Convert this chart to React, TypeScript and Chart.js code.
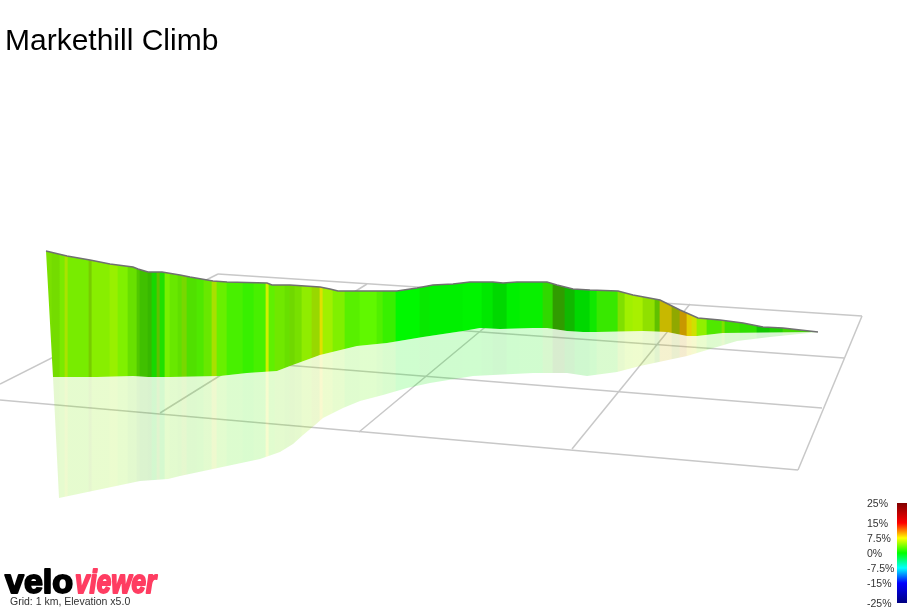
import { useEffect, useRef } from 'react';
import { Chart, registerables } from 'chart.js';

Chart.register(...registerables);

const WIDTH = 907;
const HEIGHT = 607;

const chartTitle = 'Markethill Climb';
const gridCaption = 'Grid: 1 km, Elevation x5.0';

// top of the elevation ribbon
const ridgeX = [46, 67, 90, 110, 133, 138, 148, 162, 180, 190, 213, 227, 267, 272, 290, 320, 330, 338, 397, 417, 433, 453, 470, 493, 503, 517, 547, 557, 573, 590, 618, 633, 660, 680, 698, 720, 743, 763, 783, 818];
const ridgeY = [251, 256, 260, 264, 267, 269, 272, 272, 275, 277, 281, 282, 283, 285, 285, 287, 289, 291, 291, 288, 285, 284, 282, 282, 283, 282, 282, 285, 289, 290, 291, 295, 300, 310, 318, 320, 323, 327, 328, 332];

// where the ribbon meets the ground
const groundX = [53, 97, 133, 148, 170, 220, 247, 277, 290, 320, 357, 387, 423, 463, 480, 500, 533, 547, 567, 583, 597, 643, 667, 687, 697, 723, 818];
const groundY = [377, 377, 376, 377, 377, 376, 373, 371, 366, 355, 346, 343, 337, 331, 328, 329, 328, 328, 331, 332, 332, 331, 332, 336, 336, 333, 332];

// lower edge of the reflection
const mirrorX = [59, 140, 168, 180, 260, 280, 293, 303, 315, 323, 343, 360, 383, 407, 430, 473, 533, 567, 587, 617, 640, 687, 707, 737, 770, 818];
const mirrorY = [498, 481, 479, 476, 459, 452, 444, 435, 425, 418, 408, 401, 395, 388, 383, 376, 373, 373, 376, 372, 366, 356, 350, 341, 337, 332];

// gradient stripes along the route
const stripeStart = [46, 52, 60, 65, 68, 89, 92, 110, 118, 128, 137, 140, 148, 152, 157, 160, 165, 170, 178, 182, 187, 197, 204, 212, 217, 227, 243, 254, 266, 269, 275, 285, 290, 295, 302, 312, 320, 323, 333, 345, 360, 377, 383, 396, 420, 430, 463, 482, 493, 507, 520, 543, 553, 565, 575, 590, 597, 618, 625, 633, 643, 655, 660, 672, 680, 687, 692, 697, 707, 722, 725, 740, 757, 770, 783];
const stripeColor = ['#7ae000', '#74dc00', '#7aea00', '#a8e400', '#78ec00', '#78cc00', '#88ee00', '#98f000', '#80f000', '#68e000', '#50c800', '#40c000', '#38b800', '#18d800', '#60c000', '#20e000', '#78f000', '#68e800', '#60e000', '#78d800', '#50e000', '#50e800', '#68e800', '#a8e000', '#68f000', '#48f000', '#38f000', '#48f000', '#d0f000', '#60f000', '#70e800', '#68e000', '#70d800', '#78e000', '#90ec00', '#98d800', '#e0e000', '#a0f000', '#80f000', '#58f000', '#60f800', '#50f000', '#38f000', '#00f800', '#08e800', '#00f000', '#00f400', '#00e800', '#00d800', '#00f000', '#08f000', '#30d800', '#309c00', '#10b800', '#00d800', '#10e800', '#38e800', '#80e000', '#a0f000', '#a8f000', '#90e000', '#60c000', '#c8b800', '#90a800', '#c89800', '#e0d000', '#d0e000', '#90f000', '#50e800', '#80e000', '#40e000', '#30e000', '#10c800', '#20d000', '#40d800'];

// ground grid, 1 km squares
const gridFromX = [0, 218, 272, 300, 0, 160, 359, 572, 798];
const gridFromY = [400, 274, 364, 319, 384, 413, 432, 449, 470];
const gridToX = [798, 862, 822, 844, 218, 367, 525, 690, 862];
const gridToY = [470, 316, 408, 358, 274, 284, 294, 304, 316];

// gradient scale
const scaleValues = [25, 15, 7.5, 0, -7.5, -15, -25];
const scaleLabels = ['25%', '15%', '7.5%', '0%', '-7.5%', '-15%', '-25%'];
const scaleColors = ['#800000', '#ff0000', '#ffff00', '#00ff00', '#00ffff', '#0000ff', '#000080'];

const toPoints = (xs: number[], ys: number[]) => xs.map((x, i) => ({ x, y: ys[i] }));

const scaleY = (pct: number) => 553 - pct * 2;

const stripes = (alpha: string) => (ctx: any) => {
  const { chart } = ctx;
  // the options get resolved once before the layout is done
  if (!chart.chartArea) return 'transparent';
  const xScale = chart.scales.x;
  const grad = chart.ctx.createLinearGradient(xScale.getPixelForValue(0), 0, xScale.getPixelForValue(WIDTH), 0);
  stripeStart.forEach((start, i) => {
    const end = i + 1 < stripeStart.length ? stripeStart[i + 1] : WIDTH;
    // a little soft between two stripes
    grad.addColorStop(start / WIDTH, stripeColor[i] + alpha);
    grad.addColorStop((end - 0.8) / WIDTH, stripeColor[i] + alpha);
  });
  return grad;
};

const scaleBar = (ctx: any) => {
  const { chart } = ctx;
  if (!chart.chartArea) return 'transparent';
  const yScale = chart.scales.y;
  const top = yScale.getPixelForValue(scaleY(25));
  const bottom = yScale.getPixelForValue(scaleY(-25));
  const grad = chart.ctx.createLinearGradient(0, top, 0, bottom);
  scaleValues.forEach((v, i) => {
    grad.addColorStop((25 - v) / 50, scaleColors[i]);
  });
  return grad;
};

// title, caption, logo and the labels of the gradient scale
const textPlugin = {
  id: 'pageText',
  afterDraw(chart: Chart) {
    const { ctx } = chart;
    const x = chart.scales.x;
    const y = chart.scales.y;
    ctx.save();
    ctx.textBaseline = 'alphabetic';
    ctx.textAlign = 'left';

    ctx.fillStyle = '#000000';
    ctx.font = '30px "Liberation Sans", Arial, sans-serif';
    ctx.fillText(chartTitle, x.getPixelForValue(5), y.getPixelForValue(50));

    ctx.fillStyle = '#333333';
    ctx.font = '10.5px "Liberation Sans", Arial, sans-serif';
    scaleLabels.forEach((label, i) => {
      ctx.fillText(label, x.getPixelForValue(867), y.getPixelForValue(scaleY(scaleValues[i]) + 4));
    });
    ctx.fillText(gridCaption, x.getPixelForValue(10), y.getPixelForValue(605));

    ctx.lineJoin = 'round';
    ctx.lineWidth = 2;
    ctx.font = 'bold 34px "Liberation Sans", Arial, sans-serif';
    ctx.fillStyle = '#000000';
    ctx.strokeStyle = '#000000';
    ctx.fillText('velo', x.getPixelForValue(5), y.getPixelForValue(593), 70);
    ctx.strokeText('velo', x.getPixelForValue(5), y.getPixelForValue(593), 70);
    ctx.font = 'italic bold 33px "Liberation Sans", Arial, sans-serif';
    ctx.fillStyle = '#ff3d62';
    ctx.strokeStyle = '#ff3d62';
    ctx.fillText('viewer', x.getPixelForValue(75), y.getPixelForValue(593), 81);
    ctx.strokeText('viewer', x.getPixelForValue(75), y.getPixelForValue(593), 81);
    ctx.restore();
  },
};

export default function App() {
  const chartRef = useRef<HTMLCanvasElement>(null);

  useEffect(() => {
    if (!chartRef.current) return;

    const ground = toPoints(groundX, groundY);
    const hidden = { borderWidth: 0, pointRadius: 0, showLine: true, fill: false };

    const chart = new Chart(chartRef.current, {
      type: 'scatter',
      data: {
        datasets: [
          // scale bar on top of everything else
          {
            data: toPoints([897, 907], [scaleY(25), scaleY(25)]),
            showLine: true,
            borderWidth: 0,
            pointRadius: 0,
            fill: { value: scaleY(-25) },
            backgroundColor: scaleBar,
          },
          // ribbon, the lower edge starts in the top corner to get the slanted left side
          {
            data: toPoints(ridgeX, ridgeY),
            showLine: true,
            borderColor: '#707070',
            borderWidth: 1.5,
            pointRadius: 0,
            fill: '+1',
            backgroundColor: stripes('ff'),
          },
          { data: [{ x: ridgeX[0], y: ridgeY[0] }, ...ground], ...hidden },
          // reflection on the ground
          {
            data: [ground[0], ...toPoints(mirrorX, mirrorY)],
            showLine: true,
            borderWidth: 0,
            pointRadius: 0,
            fill: '+1',
            backgroundColor: stripes('30'),
          },
          { data: ground, ...hidden },
          ...gridFromX.map((x, i) => ({
            data: [{ x, y: gridFromY[i] }, { x: gridToX[i], y: gridToY[i] }],
            showLine: true,
            borderColor: '#c8c8c8',
            borderWidth: 1.5,
            pointRadius: 0,
            fill: false,
          })),
        ],
      } as any,
      options: {
        responsive: false,
        animation: false,
        devicePixelRatio: 1,
        layout: { padding: 0 },
        elements: { line: { tension: 0 } },
        plugins: {
          legend: { display: false },
          tooltip: { enabled: false },
        },
        scales: {
          x: { type: 'linear', display: false, min: 0, max: WIDTH },
          y: { type: 'linear', display: false, min: 0, max: HEIGHT, reverse: true },
        },
      },
      plugins: [textPlugin],
    });

    return () => {
      chart.destroy();
    };
  }, []);

  return (
    <div style={{ position: 'absolute', left: 0, top: 0, width: WIDTH, height: HEIGHT, overflow: 'hidden' }}>
      <canvas ref={chartRef} width={WIDTH} height={HEIGHT} style={{ display: 'block' }} />
    </div>
  );
}
